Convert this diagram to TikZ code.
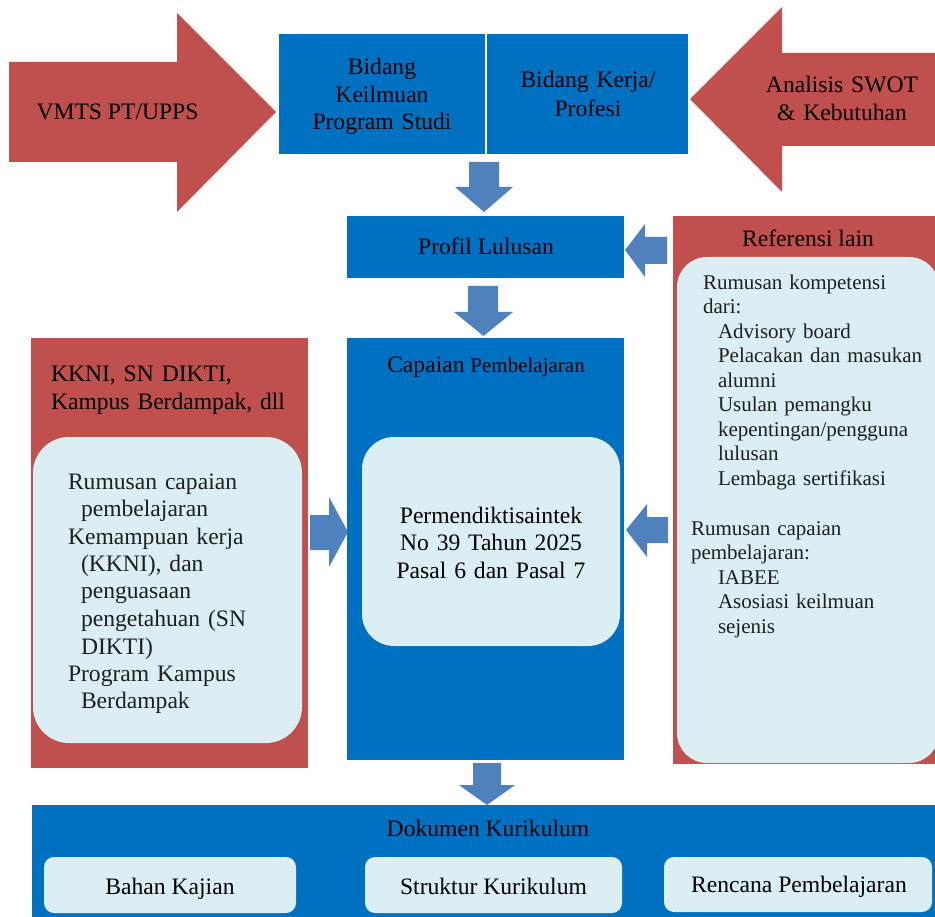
\documentclass[tikz,border=0pt]{standalone}
\usepackage{fontspec}
\setmainfont{Liberation Serif}
\definecolor{cblue}{HTML}{0070C0}
\definecolor{cred}{HTML}{C0504D}
\definecolor{clight}{HTML}{DAEEF3}
\definecolor{carrow}{HTML}{4F81BD}
\definecolor{ctext}{HTML}{1F1F1F}
\newcommand\fa{\fontsize{23.6pt}{27.5pt}\selectfont}
\newcommand\fb{\fontsize{21pt}{24.5pt}\selectfont}
\begin{document}
\begin{tikzpicture}[x=1pt,y=-1pt,
  panel/.style={anchor=north west, inner sep=0pt, outer sep=0pt, draw=none},
  bluep/.style={panel, fill=cblue},
  redp/.style={panel, fill=cred},
  lightp/.style={panel, fill=clight, rounded corners=#1},
  txt/.style={inner sep=0pt, outer sep=0pt, font=\fa, text=black},
  txtb/.style={inner sep=0pt, outer sep=0pt, font=\fb, text=ctext},
  mline/.style={txt, text width=#1, align=center, anchor=base},
  lline/.style={txt, text width=#1, align=left, anchor=base west},
  lineb/.style={txtb, text width=#1, align=left, anchor=base west},
  barrow/.style={fill=carrow},
  rarrow/.style={fill=cred}]
\useasboundingbox (0,0) rectangle (935,917);

% ---- big red arrows
\fill[rarrow] (9,62) -- (177,62) -- (177,13) -- (276,112) -- (177,212) -- (177,162) -- (9,162) -- cycle;
\fill[rarrow] (945,53) -- (782,53) -- (782,7) -- (690,99) -- (782,192) -- (782,146) -- (945,146) -- cycle;
\node[txt, anchor=base] (vmts) at (117.5,120) {VMTS PT/UPPS};
\node[mline=200pt] (swot) at (842,93) {Analisis SWOT\\\& Kebutuhan};

% ---- top blue boxes
\node[bluep, minimum width=206pt, minimum height=120pt] (bk) at (279,34) {};
\node[bluep, minimum width=201pt, minimum height=120pt] (bp) at (487,34) {};
\node[mline=200pt] (bkt) at (382,75) {Bidang\\Keilmuan\\Program Studi};
\node[mline=200pt] (bpt) at (588,88) {Bidang Kerja/\\[1.5pt]Profesi};

% ---- profil
\node[bluep, minimum width=277pt, minimum height=62pt] (profil) at (347,216) {};
\node[txt, anchor=base] (profilt) at (486,255) {Profil Lulusan};

% ---- capaian
\node[bluep, minimum width=277pt, minimum height=422pt] (cp) at (347,338) {};
\node[txt, anchor=base] (cpt) at (486,373) {Capaian {\fb Pembelajaran}};
\node[lightp=32pt, minimum width=258pt, minimum height=209pt] (cpin) at (362,437) {};
\node[mline=250pt] (cpint) at (491,523) {Permendiktisaintek\\No 39 Tahun 2025\\Pasal 6 dan Pasal 7};

% ---- KKNI (left)
\node[redp, minimum width=277pt, minimum height=430pt] (kk) at (31,338) {};
\node[lline=255pt] (kkt) at (51,382) {KKNI, SN DIKTI,\\Kampus Berdampak, dll};
\node[lightp=36pt, minimum width=269pt, minimum height=306pt] (kkin) at (33,437) {};
\node[lline=230pt, text=ctext] (kkint) at (68,489) {Rumusan capaian\\
\hspace*{13pt}pembelajaran\\
Kemampuan kerja\\
\hspace*{13pt}(KKNI), dan\\
\hspace*{13pt}penguasaan\\
\hspace*{13pt}pengetahuan (SN\\
\hspace*{13pt}DIKTI)\\
Program Kampus\\
\hspace*{13pt}Berdampak};

% ---- Referensi lain (right)
\node[redp, minimum width=270pt, minimum height=548pt] (rf) at (673,216) {};
\node[txt, anchor=base] (rft) at (808,247) {Referensi lain};
\node[lightp=30pt, minimum width=262pt, minimum height=506pt] (rfin) at (677,257) {};
\node[lineb=240pt] (rfa) at (703,289.3) {Rumusan kompetensi\\
dari:\\
\hspace*{15pt}Advisory board\\
\hspace*{15pt}Pelacakan dan masukan\\
\hspace*{15pt}alumni\\
\hspace*{15pt}Usulan pemangku\\
\hspace*{15pt}kepentingan/pengguna\\
\hspace*{15pt}lulusan\\
\hspace*{15pt}Lembaga sertifikasi};
\node[lineb=240pt] (rfb) at (691,535) {Rumusan capaian\\
pembelajaran:\\
\hspace*{27pt}IABEE\\
\hspace*{27pt}Asosiasi keilmuan\\
\hspace*{27pt}sejenis};

% ---- Dokumen Kurikulum
\node[bluep, minimum width=910pt, minimum height=120pt] (dk) at (32,805) {};
\node[txt, anchor=base] (dkt) at (488,836) {Dokumen Kurikulum};
\node[lightp=10pt, minimum width=252pt, minimum height=56pt] (bahan) at (44,857) {};
\node[lightp=10pt, minimum width=257pt, minimum height=56pt] (struk) at (365,857) {};
\node[lightp=10pt, minimum width=268pt, minimum height=55pt] (renc) at (664,857) {};
\node[txt, anchor=base] (bahant) at (170,894) {Bahan Kajian};
\node[txt, anchor=base] (strukt) at (493.5,894) {Struktur Kurikulum};
\node[txt, anchor=base] (renct) at (799,892) {Rencana Pembelajaran};

% ---- blue block arrows
\fill[barrow] (469,162) -- (499,162) -- (499,187) -- (513,187) -- (484,212) -- (455,187) -- (469,187) -- cycle;
\fill[barrow] (468,286) -- (498,286) -- (498,312) -- (513,312) -- (483.5,336) -- (454,312) -- (468,312) -- cycle;
\fill[barrow] (473,763) -- (501,763) -- (501,785) -- (515,785) -- (487,805) -- (459,785) -- (473,785) -- cycle;
\fill[barrow] (667,237) -- (645,237) -- (645,224) -- (625,250) -- (645,277) -- (645,264) -- (667,264) -- cycle;
\fill[barrow] (668,517) -- (647,517) -- (647,504) -- (626,530) -- (647,557) -- (647,543) -- (668,543) -- cycle;
\fill[barrow] (310,515) -- (329,515) -- (329,497) -- (348,532) -- (329,567) -- (329,550) -- (310,550) -- cycle;
\end{tikzpicture}
\end{document}
